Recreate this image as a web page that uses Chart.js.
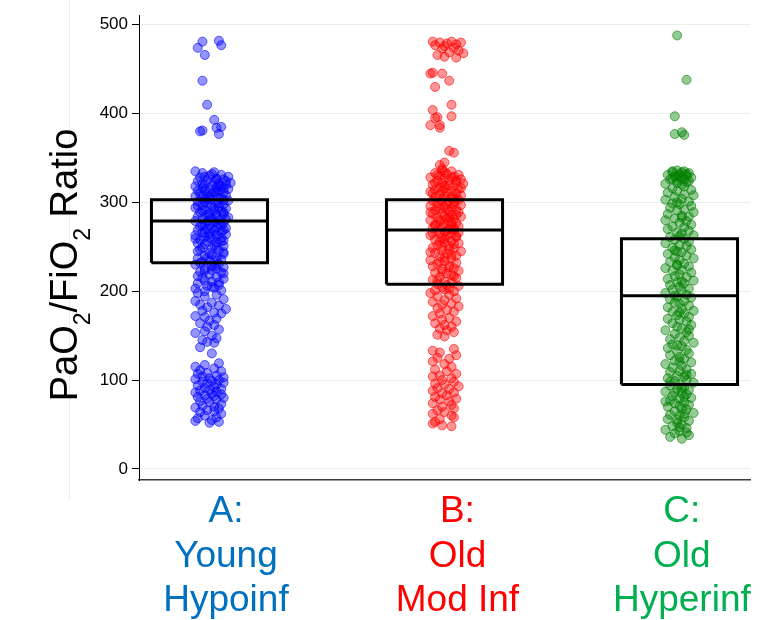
<!DOCTYPE html>
<html>
<head>
<meta charset="utf-8">
<script src="https://cdn.jsdelivr.net/npm/chart.js@4.4.1/dist/chart.umd.min.js"></script>
<style>
  html, body { margin: 0; padding: 0; background: #fff; }
  #wrap { position: relative; width: 780px; height: 620px; }
  #rule { position: absolute; left: 69px; top: 0; width: 1px; height: 500px; background: #eceff1; }
  #chart { position: absolute; left: 0; top: 0; }
</style>
</head>
<body>
<div id="wrap">
  <div id="rule"></div>
  <canvas id="chart" width="780" height="620"></canvas>
</div>
<script>
// categories and box summaries
const categories = ['A', 'B', 'C'];
const categoryPos = [1, 2, 3];
const categoryLabels = [['A:', 'Young', 'Hypoinf'], ['B:', 'Old', 'Mod Inf'], ['C:', 'Old', 'Hyperinf']];
const q1 = [232, 208, 95];
const medians = [279, 269, 195];
const q3 = [303, 303, 259];
const yTicks = [0, 100, 200, 300, 400, 500];
// y title pieces: [text, isSubscript]
const yTitleParts = [['PaO', false], ['2', true], ['/FiO', false], ['2', true], [' Ratio', false]];

// jittered points: [PaO2/FiO2, horizontal jitter in hundredths of a category]
const pointsA = [
  [481,-3],[482,4],[474,-5],[477,5],[466,-2],[437,-3],[410,-1],[393,2],[380,-4],[381,-3],[384,3],[385,5],[377,4],[335,-6],
  [334,2],[333,-3],[331,5],[330,0],[329,8],[328,-4],[327,3],[326,6],[325,-1],[324,-5],[323,2],[322,9],[321,4],[320,-2],[320,7],
  [319,1],[318,-6],[318,5],[317,3],[316,-3],[315,8],[314,0],[313,-5],[313,4],[312,2],[311,6],[310,-4],[309,1],[309,-1],[308,7],
  [307,-6],[306,3],[305,5],[304,-2],[303,0],[302,8],[301,-5],[300,3],[299,-1],[298,6],[297,-3],[296,1],[295,4],[294,-6],[293,7],
  [292,-2],[291,2],[290,5],[289,-4],[288,0],[287,6],[286,-1],[285,3],[284,-5],[283,8],[282,1],[281,-3],[280,4],[279,-6],[278,2],
  [277,6],[276,-2],[275,0],[274,5],[273,-4],[272,3],[271,7],[270,-1],[269,-5],[268,2],[267,5],[266,-3],[265,0],[264,7],[263,-6],
  [262,3],[261,-2],[260,5],[259,1],[258,-4],[257,6],[256,-1],[255,3],[254,-5],[252,2],[251,6],[249,-3],[248,1],[246,4],[245,-5],
  [243,0],[242,6],[240,-2],[239,3],[237,-5],[236,5],[234,0],[233,-3],[231,4],[230,-6],[228,2],[227,6],[225,-2],[224,1],[222,-4],
  [221,5],[219,0],[217,-5],[216,3],[214,6],[212,-2],[211,1],[209,-5],[207,4],[206,-1],[204,2],[203,-6],[201,5],[200,-2],
  [332,1],[329,-2],[326,3],[324,7],[321,-3],[319,4],[316,6],[314,-2],[311,3],[308,-3],[306,0],[303,6],[301,-2],[299,4],[296,-5],
  [294,2],[291,-3],[289,6],[286,3],[284,0],[281,7],[279,-1],[276,4],[274,-3],[271,1],[269,6],[266,-2],[264,3],[261,0],[259,-6],
  [256,5],[253,-2],[250,3],[247,-4],[244,6],[241,1],[238,-1],[235,3],[232,-4],[229,1],[226,3],[223,-2],[220,6],[215,-3],[210,4],[205,1],
  [198,-5],[196,3],[194,-2],[191,6],[189,-6],[187,1],[185,-4],[184,4],[182,-1],[180,7],[178,-3],[176,2],[175,5],[172,-6],[171,-2],
  [169,3],[167,0],[164,-4],[162,2],[160,-1],[157,4],[155,-2],[153,-6],[150,1],[147,3],[145,-3],[143,-1],[142,2],[137,-4],[130,1],
  [119,4],[117,-2],[115,-6],[113,2],[111,-4],[110,5],[108,-1],[107,-5],[105,3],[104,-3],[103,6],[102,0],[101,-6],[100,4],[99,1],
  [98,-3],[97,6],[96,-1],[95,3],[94,-5],[92,2],[91,-2],[90,5],[89,0],[88,-4],[87,3],[86,-6],[85,1],[84,5],[83,-2],[82,2],[81,-5],
  [80,6],[79,-1],[78,3],[76,-4],[75,0],[73,5],[71,-3],[70,2],[69,-6],[68,4],[66,-1],[65,2],[64,-4],[62,5],[60,-2],[58,3],[57,-5],
  [55,1],[54,-6],[53,4],[52,0]
];
const pointsB = [
  [481,-5],[480,-2],[479,1],[481,3],[478,5],[480,7],[477,-4],[476,0],[474,4],[473,-1],[471,6],[469,2],[466,-3],[464,0],[463,5],[468,8],
  [445,-6],[446,-5],[445,-1],[437,2],[430,-4],
  [410,3],[404,-5],[396,-3],[395,-4],[397,3],[387,-6],[387,-2],[384,-2],
  [358,2],[356,4],[345,0],[342,-2],[338,-1],
  [336,-1],[335,3],[333,-4],[332,1],[331,6],[330,-2],[329,4],[328,-6],[327,0],[326,7],[325,2],[324,-3],[323,5],[322,-1],[321,8],
  [320,-5],[319,2],[318,4],[317,-2],[316,0],[315,6],[314,-4],[313,3],[312,-6],[311,1],[310,5],[309,-2],[308,7],[307,0],[306,-4],
  [305,3],[304,-1],[303,6],[302,-5],[301,2],[300,4],[299,-3],[298,1],[297,7],[296,-6],[295,0],[294,3],[293,-2],[292,5],[291,-4],
  [290,2],[289,6],[288,-1],[287,-5],[286,3],[285,0],[284,7],[283,-3],[282,1],[281,4],[280,-6],[279,2],[278,-2],[277,5],[276,0],
  [275,-4],[274,3],[273,6],[272,-1],[271,-5],[270,2],[269,4],[268,-3],[267,0],[266,6],[265,-2],[264,3],[263,-6],[262,1],[261,5],
  [260,-1],[258,-4],[257,3],[255,0],[254,6],[252,-3],[251,2],[249,-5],[248,4],[246,-1],[245,7],[243,-4],[242,1],[240,5],[239,-2],
  [237,3],[235,-6],[234,0],[232,5],[231,-3],[229,2],[228,-5],[226,4],[225,-1],[223,6],[221,-4],[220,1],[218,3],[216,-2],[215,5],
  [213,-5],[211,0],[210,3],[208,-3],[206,6],[204,-1],[203,2],[201,-4],[200,4],
  [334,0],[331,-3],[328,3],[325,5],[322,-4],[319,0],[316,7],[313,-1],[310,-5],[307,3],[304,5],[301,-1],[298,4],[295,-3],[292,1],
  [289,-6],[286,5],[283,2],[280,-2],[277,3],[274,-4],[271,4],[268,1],[265,-5],[262,5],[259,0],[256,-2],[253,4],[250,-1],[247,2],
  [244,-6],[241,3],[238,0],[233,-2],[227,2],[222,-1],[217,4],[212,-3],[207,1],[202,0],
  [198,-6],[196,2],[194,-3],[192,5],[190,0],[188,-5],[186,3],[185,-1],[183,6],[181,-3],[179,1],[177,4],[175,-2],[172,-5],[170,2],
  [168,-1],[166,5],[164,-4],[162,0],[160,3],[158,-2],[156,1],[154,4],[151,-3],[149,0],
  [135,4],[133,-5],[131,-2],[128,5],[125,-3],[124,2],[121,-5],[118,0],[115,3],[112,-4],[110,1],[107,5],[105,-2],[104,-5],[102,3],
  [100,-1],[98,4],[96,-4],[95,0],[93,6],[91,-3],[90,2],[88,-5],[86,4],[85,-1],[83,1],[81,-4],[79,5],[78,-2],[76,2],[74,-5],[72,3],
  [70,-1],[68,4],[66,-3],[64,0],[62,-5],[60,3],[58,4],[56,-2],[53,-4],[51,-5],[49,-1],[48,3]
];
const pointsC = [
  [488,-1],[438,3],[397,-2],[377,-2],[379,1],[376,2],
  [336,-1],[335,2],[334,-3],[333,4],[332,0],[331,-5],[330,3],[329,-2],[328,5],[327,1],[326,-4],[325,-1],[323,3],[321,-6],[318,2],
  [316,-3],[314,5],[313,-1],[311,-5],[309,2],[308,6],[306,-2],[304,1],[303,-6],[301,4],[299,-3],[298,0],[296,5],[294,-4],[292,2],
  [291,-1],[289,6],[287,-5],[285,1],[284,4],[282,-2],[280,-6],[279,3],[277,0],[275,5],[273,-3],[272,2],[270,-5],[268,4],[266,-1],
  [265,1],[263,6],[261,-4],[259,2],[258,-2],[256,4],[254,-6],[252,0],[251,3],[249,-3],[247,5],[245,-1],[244,1],[242,-5],[240,3],
  [238,-2],[237,6],[235,0],[233,-4],[231,2],[230,-1],[228,4],[226,-6],[224,1],[223,-3],[221,5],[219,0],[217,-2],[216,3],[214,-5],
  [212,6],[210,-1],[209,2],[207,-4],[205,0],[203,4],[202,-3],[200,1],[198,-6],[196,3],[194,-1],[193,5],[191,-4],[189,2],[187,-2],
  [186,0],[184,4],[182,-5],[180,1],[178,6],[177,-3],[175,2],[173,-1],[171,4],[169,-5],[168,0],[166,3],[164,-3],[162,5],[160,-1],
  [158,1],[156,-6],[154,3],[152,-2],[150,4],[148,0],[146,-4],[144,2],[142,6],[140,-3],[138,1],[136,-5],[134,3],[132,-1],[130,4],
  [128,-4],[126,0],[124,2],[122,-2],[120,5],[118,-6],[116,1],[114,-3],[112,3],[110,0],[109,-4],[107,5],[105,-1],[104,2],[102,-5],
  [100,3],[99,-2],[97,6],[95,0],[94,-4],[92,2],[90,-1],[89,4],[87,-6],[85,1],[84,3],[82,-3],[80,5],[79,0],[77,-4],[75,2],[74,-2],
  [72,4],[70,-5],[68,1],[67,3],[65,-2],[63,6],[61,-4],[60,0],[58,2],[56,-5],[54,4],[52,-1],[50,1],[48,-3],[46,3],[44,-6],[42,0],
  [40,-2],[38,4],[36,-4],[34,1],
  [335,-3],[334,1],[332,3],[330,-1],[329,0],[327,-3],[326,2],[324,4],[322,-1],[320,1],[300,-1],[283,1],[262,0],[246,-2],[229,-1],
  [211,1],[195,-2],[176,0],[157,4],[139,-1],[121,0],[106,3],[98,-4],[91,1],[86,-2],[81,2],[76,-6],[71,0],[62,2],[55,-1],[47,0],[41,3]
];

const FONT = "'Liberation Sans', Arial, Helvetica, sans-serif";
const BOX_W = 0.247;
const labelPos = [1.07, 2.055, 3.01];
const groupPoints = [pointsA, pointsB, pointsC];
const pointRgb = ['0,0,255', '255,0,0', '0,128,0'];
const labelColors = ['#0070c0', '#ff0000', '#00b050'];

const datasets = [];
categoryPos.forEach((c, i) => {
  // box outline
  datasets.push({
    type: 'line',
    data: [
      { x: c - BOX_W, y: q1[i] }, { x: c + BOX_W, y: q1[i] },
      { x: c + BOX_W, y: q3[i] }, { x: c - BOX_W, y: q3[i] },
      { x: c - BOX_W, y: q1[i] }
    ],
    borderColor: '#000',
    borderWidth: 3,
    borderJoinStyle: 'miter',
    pointRadius: 0,
    fill: false,
    tension: 0,
    order: 0
  });
  // median line
  datasets.push({
    type: 'line',
    data: [{ x: c - BOX_W, y: medians[i] }, { x: c + BOX_W, y: medians[i] }],
    borderColor: '#000',
    borderWidth: 3,
    pointRadius: 0,
    fill: false,
    order: 0
  });
  // jittered observations
  datasets.push({
    type: 'scatter',
    label: categories[i],
    data: groupPoints[i].map((p) => ({ x: c + p[1] / 100, y: p[0] })),
    backgroundColor: 'rgba(' + pointRgb[i] + ',0.42)',
    borderColor: 'rgba(' + pointRgb[i] + ',0.6)',
    borderWidth: 1,
    pointRadius: 4.5,
    order: 1
  });
});

// y axis title with real subscripts
const yTitlePlugin = {
  id: 'yTitle',
  afterDraw(chart) {
    const ctx = chart.ctx;
    const mainFont = '38px ' + FONT;
    const subFont = '23px ' + FONT;
    ctx.save();
    ctx.fillStyle = '#000';
    ctx.textAlign = 'left';
    ctx.textBaseline = 'alphabetic';
    const widths = yTitleParts.map(([t, sub]) => {
      ctx.font = sub ? subFont : mainFont;
      return ctx.measureText(t).width;
    });
    const total = widths.reduce((a, b) => a + b, 0);
    ctx.translate(77, 265);
    ctx.rotate(-Math.PI / 2);
    let x = -total / 2;
    yTitleParts.forEach(([t, sub], i) => {
      ctx.font = sub ? subFont : mainFont;
      ctx.fillText(t, x, sub ? 13 : 0);
      x += widths[i];
    });
    ctx.restore();
  }
};

new Chart(document.getElementById('chart').getContext('2d'), {
  type: 'scatter',
  data: { datasets: datasets },
  plugins: [yTitlePlugin],
  options: {
    responsive: false,
    animation: false,
    layout: { padding: { left: 38, right: 30, top: 15, bottom: 0 } },
    plugins: {
      legend: { display: false },
      tooltip: { enabled: false }
    },
    scales: {
      x: {
        type: 'linear',
        min: 0.7,
        max: 3.3,
        afterBuildTicks: (s) => { s.ticks = labelPos.map((v) => ({ value: v })); },
        afterFit: (s) => { s.height = 140; },
        grid: { drawOnChartArea: false, drawTicks: false },
        border: { display: true, color: '#3a3a3a', width: 1.5 },
        ticks: {
          padding: 10,
          autoSkip: false,
          maxRotation: 0,
          font: { size: 37, family: FONT, lineHeight: 1.2 },
          color: (ctx) => labelColors[ctx.index],
          callback: (value, index) => categoryLabels[index]
        }
      },
      y: {
        min: -12.5,
        max: 511,
        afterBuildTicks: (s) => { s.ticks = yTicks.map((v) => ({ value: v })); },
        afterFit: (s) => { s.width = 101; },
        grid: { color: '#e8eff1', tickColor: '#000', tickLength: 7, lineWidth: 1 },
        border: { color: '#000', width: 1 },
        ticks: { padding: 4, color: '#000', font: { size: 17, family: FONT } }
      }
    }
  }
});
</script>
</body>
</html>
